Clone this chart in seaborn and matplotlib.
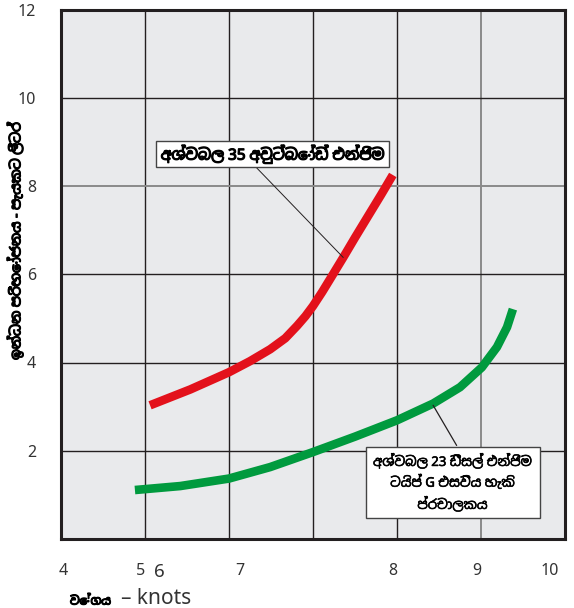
import numpy as np
import pandas as pd
import matplotlib
matplotlib.use("Agg")
import matplotlib.pyplot as plt
from matplotlib import font_manager as fm
from matplotlib import patheffects as pe
from matplotlib.ft2font import FT2Font
from matplotlib.patches import Rectangle
import seaborn as sns

# ---- data: speed position on the ruled grid (columns) and fuel use (litres / hour)
outboard_x = [1.06, 1.54, 2.00, 2.25, 2.49, 2.67, 2.81, 2.91, 3.00, 3.11, 3.20,
              3.36, 3.50, 3.65, 3.81, 3.95]
outboard_y = [3.03, 3.39, 3.78, 4.03, 4.30, 4.55, 4.83, 5.05, 5.28, 5.60, 5.88,
              6.38, 6.83, 7.30, 7.80, 8.25]

diesel_x = [0.88, 1.42, 2.00, 2.49, 3.00, 3.50, 4.00, 4.43, 4.75, 5.01, 5.19, 5.31, 5.38]
diesel_y = [1.11, 1.20, 1.37, 1.63, 1.97, 2.32, 2.69, 3.07, 3.44, 3.89, 4.35, 4.80, 5.21]

speed_labels = ["4", "5", "6", "7", "8", "9", "10"]
speed_label_pos = [0.03, 0.95, 1.17, 2.13, 3.95, 4.95, 5.82]
fuel_ticks = [0, 2, 4, 6, 8, 10, 12]
fuel_labels = ["", "2", "4", "6", "8", "10", "12"]

outboard_name = "අශ්වබල 35 අවුට්බෝඩ් එන්ජිම"
diesel_name = "අශ්වබල 23 ඩීසල් එන්ජිම\nටයිප් G එසවිය හැකි\nප්‍රචාලකය"
y_title = "ඉන්ධන පරිභෝජනය - පැයකට ලීටර්"
x_title_si = "වේගය"
x_title_en = "– knots"


def sinhala_family():
    names = []
    for path in fm.findSystemFonts():
        try:
            if 0x0D9A in FT2Font(path).get_charmap():
                fm.fontManager.addfont(path)
                names.append(fm.FontProperties(fname=path).get_name())
        except Exception:
            continue
    if not names:
        return None
    return sorted(set(names), key=lambda n: ("Sans" not in n, "Noto" not in n, n))[0]


sns.set_theme(style="white")
si = sinhala_family()
families = ["Noto Sans"] + ([si] if si else []) + ["DejaVu Sans"]
plt.rcParams["font.family"] = families

RED = "#e3111b"
GREEN = "#009a3e"
INK = "#231f20"
FACE = "#e9eaec"
HEAVY = [pe.withStroke(linewidth=0.9, foreground="black")]

fig = plt.figure(figsize=(5.74, 6.08), dpi=100)
fig.patch.set_facecolor("white")
ax = fig.add_axes([61 / 574, 1 - 539 / 608, 504 / 574, (539 - 9.5) / 608])
ax.set_facecolor(FACE)

df = pd.concat([
    pd.DataFrame({"x": outboard_x, "y": outboard_y, "engine": "outboard"}),
    pd.DataFrame({"x": diesel_x, "y": diesel_y, "engine": "diesel"}),
])
sns.lineplot(data=df, x="x", y="y", hue="engine", palette={"outboard": RED, "diesel": GREEN},
             sort=False, estimator=None, lw=6.2, legend=False, ax=ax, zorder=3,
             solid_capstyle="butt", solid_joinstyle="round")

ax.set_xlim(0, 6)
ax.set_ylim(0, 12)

# ruled grid
ax.set_xticks(range(0, 7))
ax.set_xticklabels([])
ax.set_yticks(fuel_ticks, labels=fuel_labels)
ax.grid(True, color=INK, lw=1.0)
for i, gl in enumerate(ax.get_xgridlines()):
    if i == 5:
        gl.set_color("#8a8a8a")
        gl.set_linewidth(1.4)
for i, gl in enumerate(ax.get_ygridlines()):
    if i == 4:
        gl.set_color("#8a8a8a")
        gl.set_linewidth(1.4)
ax.set_axisbelow(True)

# tick labels
ax.set_xticks(speed_label_pos, labels=speed_labels, minor=True)
ax.tick_params(axis="x", which="both", length=0)
ax.tick_params(axis="x", which="minor", pad=17, labelsize=11.5, labelcolor="#333333")
ax.xaxis.get_minorticklabels()[2].set_fontsize(13.5)
ax.tick_params(axis="y", which="both", length=0, pad=18, labelsize=11.5,
               labelcolor="#333333")
ax.set_xlabel("")
ax.set_ylabel("")

for s in ax.spines.values():
    s.set_visible(True)
    s.set_color(INK)
    s.set_linewidth(2.2)

# callouts
ax.plot([2.33, 3.36], [8.41, 6.38], color=INK, lw=0.7, zorder=4)
ax.plot([4.43, 4.71], [3.03, 2.12], color=INK, lw=0.9, zorder=4)

ax.add_patch(Rectangle((1.13, 8.44), 2.78, 0.57, facecolor="white", edgecolor="#444444",
                       lw=1.0, zorder=5))
t_out = ax.text(2.52, 8.72, outboard_name, ha="center", va="center", fontsize=11,
                fontweight="bold", color="black", zorder=6, path_effects=HEAVY)

ax.add_patch(Rectangle((3.63, 0.47), 2.07, 1.62, facecolor="white", edgecolor="#444444",
                       lw=1.0, zorder=5))
t_die = ax.text(4.66, 1.28, diesel_name, ha="center", va="center", fontsize=9.5,
                color="black", linespacing=1.5, zorder=6,
                path_effects=[pe.withStroke(linewidth=0.4, foreground="black")])

# axis titles
t_y = fig.text(16 / 574, 1 - 241 / 608, y_title, rotation=90, ha="center", va="center",
               fontsize=10, fontweight="bold", color="black", path_effects=HEAVY)
fig.text(70 / 574, 1 - 601 / 608, x_title_si, ha="left", va="center",
         fontsize=8.5, fontweight="bold", color="black", path_effects=HEAVY)
fig.text(121 / 574, 1 - 599 / 608, x_title_en, ha="left", va="center",
         fontsize=15, color="#333333")


def fit(text, max_w=None, max_h=None):
    """Shrink a text until its rendered box fits the given pixel size."""
    r = fig.canvas.get_renderer()
    bb = text.get_window_extent(r)
    k = 1.0
    if max_w:
        k = min(k, max_w / bb.width)
    if max_h:
        k = min(k, max_h / bb.height)
    text.set_fontsize(text.get_fontsize() * k)


fig.canvas.draw()
fit(t_out, max_w=224)
fit(t_die, max_w=162, max_h=64)
fit(t_y, max_h=264)

fig.savefig("out.png", dpi=100)
